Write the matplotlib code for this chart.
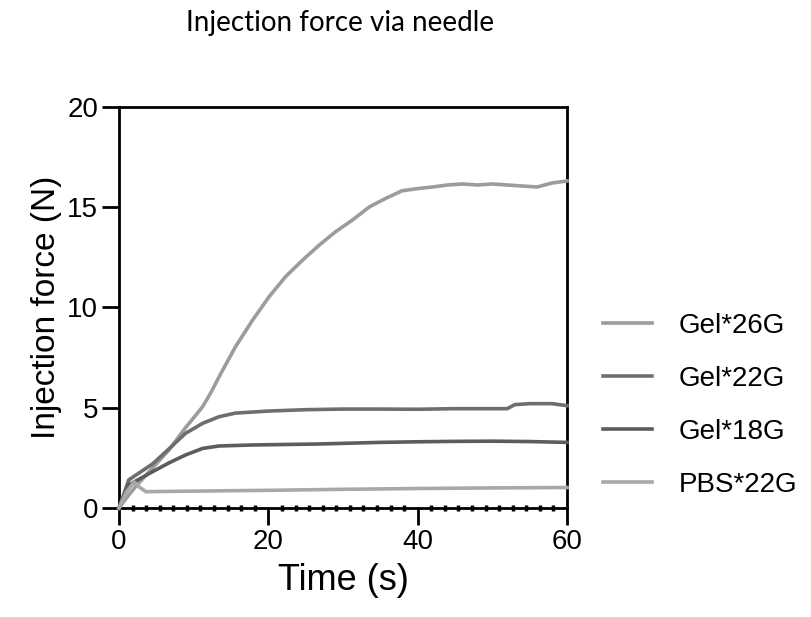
import matplotlib.pyplot as plt
from matplotlib.ticker import MultipleLocator

# Datos
t_26 = [0, 1, 2.2, 4.5, 6.7, 8.9, 10, 11.2, 12.3, 13.4, 15.6, 17.9, 20.1, 22.3, 24.6,
        26.8, 29.0, 31.25, 33.5, 35.7, 37.9, 40.2, 42, 44, 46, 48, 50, 52, 54, 56, 58, 60]
gel_26 = [0, 0.5, 1.06, 2.0, 2.9, 4.0, 4.5, 5.05, 5.75, 6.54, 8.04, 9.37, 10.53, 11.53,
          12.36, 13.1, 13.77, 14.35, 15.0, 15.43, 15.81, 15.93, 16.0, 16.1, 16.15, 16.1,
          16.15, 16.1, 16.05, 16.0, 16.2, 16.3]

t_22 = [0, 1.3, 4.5, 6.7, 8.9, 11.2, 13.4, 15.6, 20, 25, 30, 35, 40, 45, 50, 52, 53,
        55, 58, 60]
gel_22 = [0, 1.4, 2.2, 2.95, 3.72, 4.22, 4.55, 4.73, 4.83, 4.9, 4.93, 4.93, 4.92,
          4.95, 4.95, 4.95, 5.15, 5.2, 5.2, 5.1]

t_18 = [0, 1.3, 4.5, 6.7, 8.9, 11.2, 13.4, 17.9, 26.8, 35, 40.2, 45, 50, 55, 60]
gel_18 = [0, 1.15, 1.81, 2.25, 2.64, 2.97, 3.09, 3.14, 3.19, 3.27, 3.3, 3.32, 3.33,
          3.31, 3.27]

t_pbs = [0, 1, 2, 2.7, 3.6, 5, 10, 20, 30, 40, 50, 60]
pbs_22 = [0, 0.8, 1.3, 1.05, 0.81, 0.82, 0.84, 0.88, 0.93, 0.97, 1.0, 1.02]

series = [
    ("Gel*26G", t_26, gel_26, "#9c9c9c"),
    ("Gel*22G", t_22, gel_22, "#6e6e6e"),
    ("Gel*18G", t_18, gel_18, "#5c5c5c"),
    ("PBS*22G", t_pbs, pbs_22, "#a8a8a8"),
]

plt.rcParams['font.family'] = ['Liberation Sans', 'DejaVu Sans']

fig = plt.figure(figsize=(8.12, 6.17), dpi=100)
ax = fig.add_axes([0.1466, 0.1767, 0.5517, 0.6503])

for nombre, t, y, color in series:
    ax.plot(t, y, color=color, lw=2.6, label=nombre, clip_on=False, zorder=3)

ax.set_xlim(0, 60)
ax.set_ylim(0, 20)
ax.set_xticks([0, 20, 40, 60])
ax.set_yticks([0, 5, 10, 15, 20])
ax.xaxis.set_minor_locator(MultipleLocator(20 / 11))
ax.tick_params(which='major', direction='out', length=12, width=2, labelsize=20, pad=3)
ax.tick_params(axis='x', which='minor', direction='inout', length=4, width=2.5)
for s in ax.spines.values():
    s.set_linewidth(2)

ax.set_xlabel("Time (s)", fontsize=26, labelpad=6)
ax.set_ylabel("Injection force (N)", fontsize=24, labelpad=4)

fig.text(0.419, 0.962, "Injection force via needle", ha='center', va='center',
         fontsize=20, family=['Lato', 'DejaVu Sans'])

fig.legend(loc='center left', bbox_to_anchor=(0.712, 0.343), frameon=False,
           fontsize=20, handlelength=1.76, handletextpad=0.97, labelspacing=0.98)

fig.savefig("out.png", dpi=100)
